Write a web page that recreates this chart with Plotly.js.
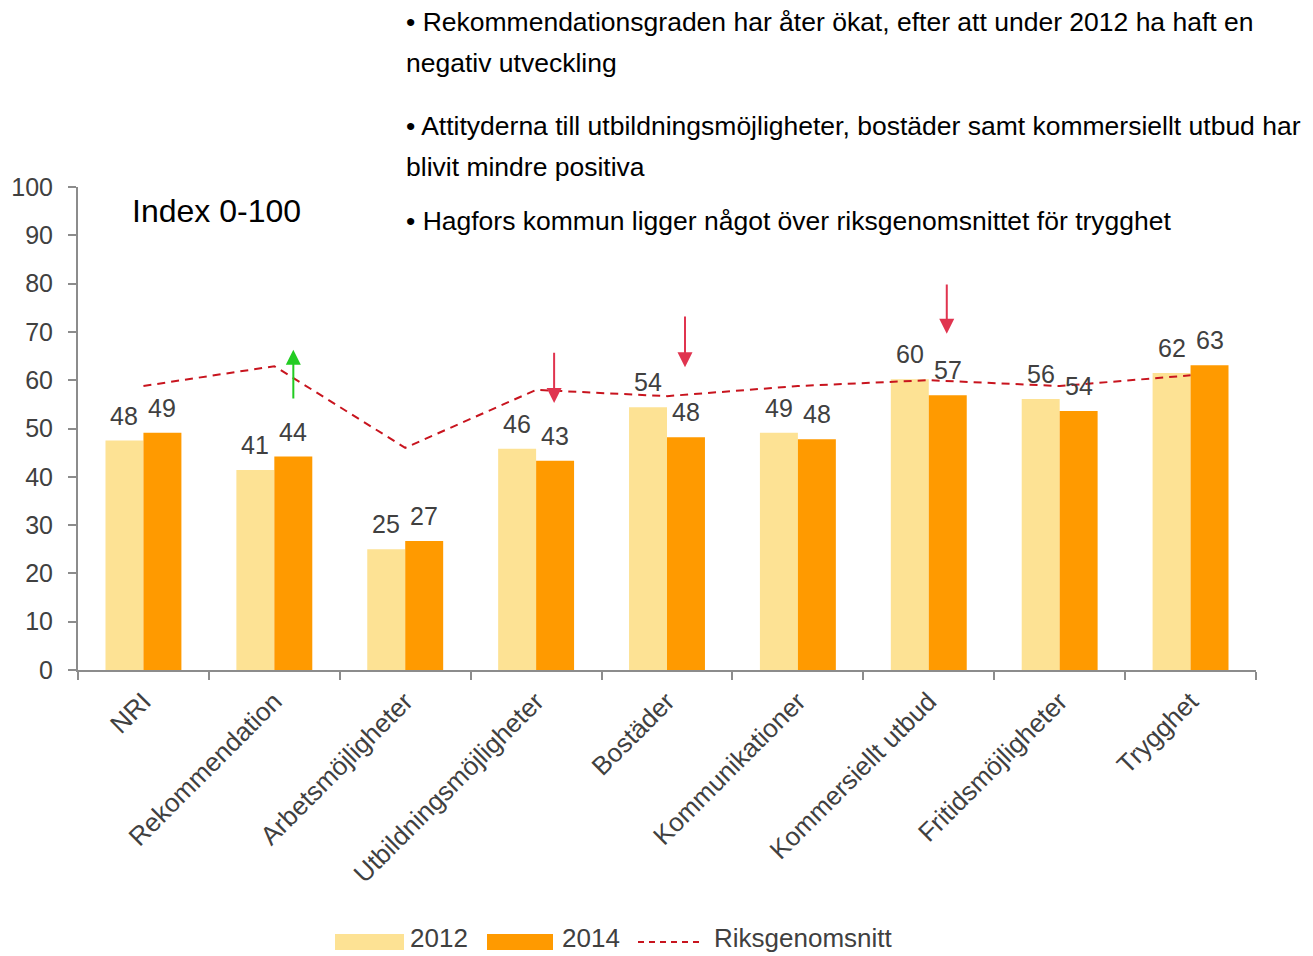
<!DOCTYPE html>
<html>
<head>
<meta charset="utf-8">
<script src="https://cdn.plot.ly/plotly-3.0.1.min.js"></script>
<style>html,body{margin:0;padding:0;background:#fff;}#chart{width:1313px;height:956px;}</style>
</head>
<body>
<div id="chart"></div>
<script>
const categories = ["NRI","Rekommendation","Arbetsmöjligheter","Utbildningsmöjligheter","Bostäder","Kommunikationer","Kommersiellt utbud","Fritidsmöjligheter","Trygghet"];
const values2012 = [47.5, 41.4, 25.0, 45.8, 54.4, 49.1, 60.2, 56.1, 61.5];
const values2014 = [49.1, 44.2, 26.7, 43.3, 48.2, 47.8, 56.9, 53.6, 63.1];
const riksgenomsnitt = [58.8, 62.9, 46.0, 58.0, 56.7, 58.8, 60.0, 58.8, 61.0];
const seriesNames = ["2012", "2014", "Riksgenomsnitt"];
// change arrows: [category, from, to]
const upArrows = [["Rekommendation", 55.9, 66.3]];
const downArrows = [["Utbildningsmöjligheter", 66.0, 55.3], ["Bostäder", 73.5, 62.7], ["Kommersiellt utbud", 80.1, 69.6]];
const notes = [
  "\u2022 Rekommendationsgraden har åter ökat, efter att under 2012 ha haft en",
  "negativ utveckling",
  "\u2022 Attityderna till utbildningsmöjligheter, bostäder samt kommersiellt utbud har",
  "blivit mindre positiva",
  "\u2022 Hagfors kommun ligger något över riksgenomsnittet för trygghet"
];
const indexLabel = "Index 0-100";

const C2012 = "#FDE294", C2014 = "#FF9A00", CLINE = "#C8141E", TXT = "#404040";
const W = 1313, H = 956, L = 78, R = 1256, T = 187, B = 670;
const px = x => (x - L) / (R - L);
const py = y => (B - y) / (B - T);
const FONT = "Liberation Sans, Arial, sans-serif";

const traces = [
  {type: "bar", name: seriesNames[0], x: categories, y: values2012, marker: {color: C2012}, showlegend: false, hoverinfo: "x+y"},
  {type: "bar", name: seriesNames[1], x: categories, y: values2014, marker: {color: C2014}, showlegend: false, hoverinfo: "x+y"},
  {type: "scatter", mode: "lines", name: seriesNames[2], x: categories, y: riksgenomsnitt,
   line: {color: CLINE, width: 2, dash: "8px,6px"}, showlegend: false}
];

const annotations = [];
categories.forEach((c, i) => {
  annotations.push({x: c, y: values2012[i], xref: "x", yref: "y", xshift: -19, yshift: 25, yanchor: "middle",
    text: String(Math.round(values2012[i])), showarrow: false, font: {family: FONT, size: 25, color: TXT}});
  annotations.push({x: c, y: values2014[i], xref: "x", yref: "y", xshift: 19, yshift: 25, yanchor: "middle",
    text: String(Math.round(values2014[i])), showarrow: false, font: {family: FONT, size: 25, color: TXT}});
});
upArrows.forEach(a => annotations.push({x: a[0], y: a[2], xref: "x", yref: "y", xshift: 19, ax: a[0], ay: a[1],
  axref: "x", ayref: "y", showarrow: true, arrowhead: 2, arrowsize: 1.5, arrowwidth: 2, arrowcolor: "#22CC22", text: ""}));
downArrows.forEach(a => annotations.push({x: a[0], y: a[2], xref: "x", yref: "y", xshift: 18, ax: a[0], ay: a[1],
  axref: "x", ayref: "y", showarrow: true, arrowhead: 2, arrowsize: 1.5, arrowwidth: 2, arrowcolor: "#E0344F", text: ""}));

const noteY = [22, 63, 126, 167, 221];
notes.forEach((t, i) => annotations.push({xref: "paper", yref: "paper", x: px(404), y: py(noteY[i]), xanchor: "left", yanchor: "middle",
  text: t, showarrow: false, font: {family: FONT, size: 26.5, color: "#000"}}));
annotations.push({xref: "paper", yref: "paper", x: px(130), y: py(211), xanchor: "left", yanchor: "middle",
  text: indexLabel, showarrow: false, font: {family: FONT, size: 32, color: "#000"}});

// custom legend
const legY = 940;
const shapes = [
  {type: "rect", xref: "paper", yref: "paper", x0: px(335), x1: px(404), y0: py(934), y1: py(950), fillcolor: C2012, line: {width: 0}},
  {type: "rect", xref: "paper", yref: "paper", x0: px(487), x1: px(553), y0: py(934), y1: py(950), fillcolor: C2014, line: {width: 0}},
  {type: "line", xref: "paper", yref: "paper", x0: px(638), x1: px(702), y0: py(legY + 2), y1: py(legY + 2), line: {color: CLINE, width: 2, dash: "6px,5px"}}
];
[[408, seriesNames[0]], [560, seriesNames[1]], [712, seriesNames[2]]].forEach(p => annotations.push({
  xref: "paper", yref: "paper", x: px(p[0]), y: py(legY - 2), xanchor: "left", yanchor: "middle", text: p[1], showarrow: false,
  font: {family: FONT, size: 26, color: TXT}}));

const layout = {
  width: W, height: H,
  margin: {l: L, r: W - R, t: T, b: H - B, pad: 0},
  paper_bgcolor: "#fff", plot_bgcolor: "#fff",
  barmode: "group", bargap: 0.42, bargroupgap: 0,
  showlegend: false,
  font: {family: FONT, color: TXT, size: 20},
  xaxis: {type: "category", tickangle: -45, ticks: "outside", tickson: "boundaries", ticklen: 8, tickwidth: 2, tickcolor: "#8c8c8c",
    showline: true, linecolor: "#8c8c8c", linewidth: 2, showgrid: false, zeroline: false, ticklabelstandoff: 4,
    tickfont: {family: FONT, size: 26, color: TXT}},
  yaxis: {range: [0, 100], dtick: 10, ticks: "outside", ticklen: 8, tickwidth: 2, tickcolor: "#8c8c8c",
    showline: true, linecolor: "#8c8c8c", linewidth: 2, showgrid: false, zeroline: false, ticklabelstandoff: 10,
    tickfont: {family: FONT, size: 25, color: TXT}},
  annotations: annotations,
  shapes: shapes
};

Plotly.newPlot("chart", traces, layout, {displayModeBar: false, staticPlot: true});
</script>
</body>
</html>
